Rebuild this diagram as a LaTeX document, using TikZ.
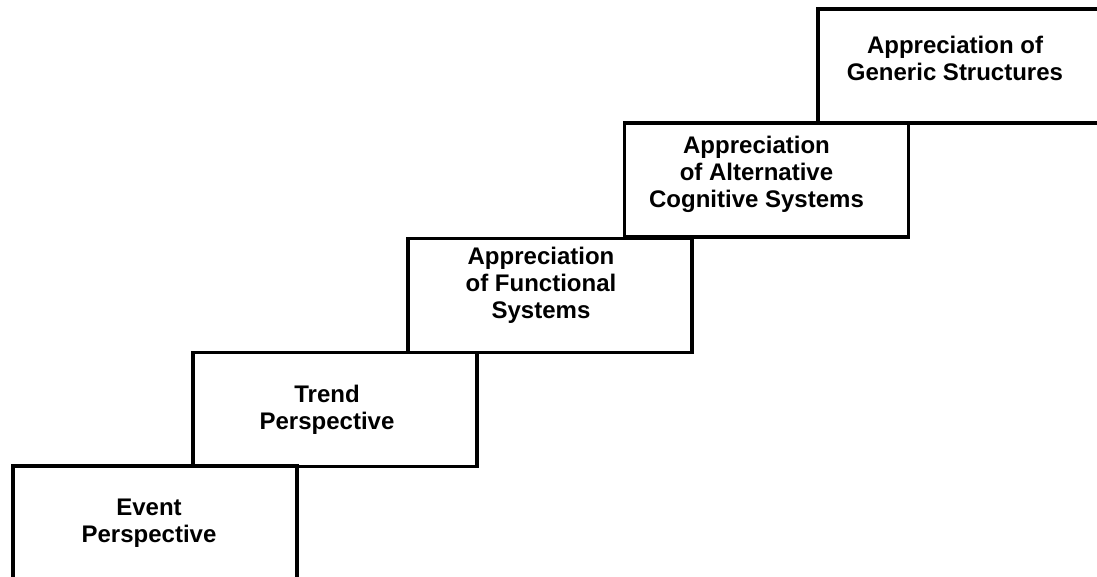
\documentclass[tikz,border=0pt]{standalone}
\usepackage{fontspec}
\setmainfont{Liberation Sans}
\usetikzlibrary{positioning}

\begin{document}
\begin{tikzpicture}[x=0.5pt,y=-0.5pt]
\tikzset{
     stair/.style={draw, line width=1.6pt, minimum width=142pt, minimum height=57pt, inner sep=0pt, outer sep=0pt},
     caption/.style={align=center, inner sep=0pt, font=\bfseries\fontsize{12}{13.5}\selectfont}}

\clip (0,0) rectangle (1097,577);
\fill[white] (0,0) rectangle (1097,577);

% The steps
\node (event)       [stair] at (155,523)   {};
\node (trend)       [stair] at (335,409.5) {};
\node (functional)  [stair] at (550,295.5) {};
\node (alternative) [stair] at (766.5,180) {};
\node (generic)     [stair] at (960,66)    {};

% The labels
\node (eventtext)       [caption] at ([xshift=-3pt]event)               {Event\\Perspective};
\node (trendtext)       [caption] at ([xshift=-4pt]trend)               {Trend\\Perspective};
\node (functionaltext)  [caption] at ([xshift=-4.5pt,yshift=5pt]functional)  {Appreciation\\of Functional\\Systems};
\node (alternativetext) [caption] at ([xshift=-5pt,yshift=3pt]alternative)   {Appreciation\\of Alternative\\Cognitive Systems};
\node (generictext)     [caption] at ([xshift=-2.5pt,yshift=4pt]generic)     {Appreciation of\\Generic Structures};
\end{tikzpicture}
\end{document}
